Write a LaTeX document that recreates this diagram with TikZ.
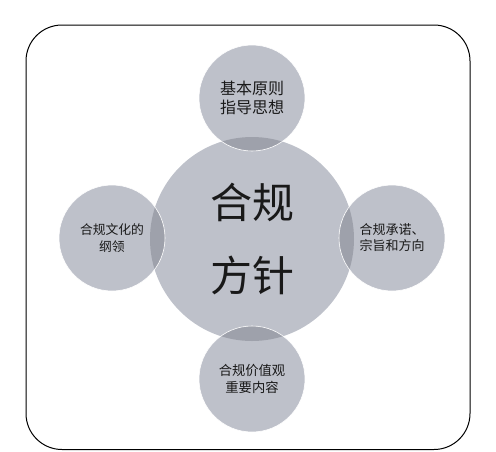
\documentclass[tikz,border=0pt]{standalone}
\usepackage{fontspec}
\setmainfont{Noto Sans CJK SC}
\definecolor{disc}{RGB}{190,193,202}
\definecolor{lens}{RGB}{158,161,171}
\definecolor{ink}{RGB}{25,25,25}
\begin{document}
\begin{tikzpicture}[x=1pt,y=-1pt,
  frame/.style={draw=black,line width=1pt,rounded corners=36pt},
  hub/.style={circle,inner sep=0pt,minimum size=204pt,align=center,text=ink,
    font=\fontsize{42}{73}\selectfont},
  sat/.style={circle,inner sep=0pt,minimum size=106pt,align=center,text=ink,
    draw=white,line width=0.6pt},
]
\useasboundingbox (0,0) rectangle (496,451);
\draw[frame] (26,25) rectangle (470,449.5);
% fills
\fill[disc] (252,239) circle (102);
\foreach \p in {(252,98),(112,238),(392,238),(252,379)}{\fill[disc] \p circle (53);}
% overlap lenses
\foreach \p in {(252,98),(112,238),(392,238),(252,379)}{
  \begin{scope}\clip \p circle (53);\fill[lens] (252,239) circle (102);\end{scope}}
% nodes
\node[hub] (hub) at (252,239) {合规\\方针};
\node[sat,font=\fontsize{16}{19}\selectfont] (top) at (252,98) {基本原则\\指导思想};
\node[sat,font=\fontsize{12.8}{16.5}\selectfont] (left) at (112,238) {合规文化的\\纲领};
\node[sat,font=\fontsize{13}{16}\selectfont] (right) at (392,238) {合规承诺、\\宗旨和方向};
\node[sat,font=\fontsize{13.3}{17}\selectfont] (bottom) at (252,379) {合规价值观\\重要内容};
\end{tikzpicture}
\end{document}
